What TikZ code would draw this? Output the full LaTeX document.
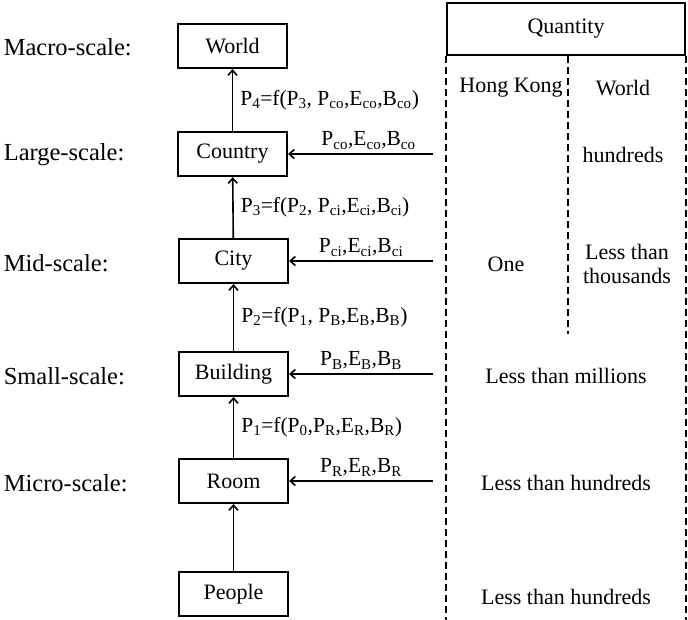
\documentclass[tikz,border=0pt]{standalone}
\usepackage{fontspec}
\setmainfont{Liberation Serif}
\usetikzlibrary{arrows.meta}

\newcommand{\lowidx}[1]{\textsubscript{#1}}

\begin{document}
\begin{tikzpicture}[x=1pt, y=-1pt,
                    box/.style={rectangle, draw, line width=2.2pt, minimum width=109pt, minimum height=44pt, inner sep=2pt, font=\fontsize{22}{24}\selectfont},
                    scale label/.style={anchor=west, inner sep=0pt, font=\fontsize{24.5}{26}\selectfont},
                    flow/.style={font=\fontsize{21.5}{23}\selectfont, inner sep=1pt},
                    qty/.style={font=\fontsize{22}{24}\selectfont, align=center, inner sep=0pt},
                    sep line/.style={line width=1.6pt, dash pattern=on 7pt off 4pt},
                    line width=1.6pt, >={Straight Barb[length=5pt, width=9pt]}]
\useasboundingbox (0,0) rectangle (688,619);

% Nodes
\node (world) [box] at (232.5,46) {World};
\node (country) [box] at (232.5,154) {Country};
\node (city) [box] at (233.5,261) {City};
\node (building) [box] at (233.5,374) {Building};
\node (room) [box] at (233.5,481) {Room};
\node (people) [box] at (233.5,594) {People};

\node (macro) [scale label] at (3,47) {Macro-scale:};
\node (large) [scale label] at (3,155) {Large-scale:};
\node (mid) [scale label] at (3,263) {Mid-scale:};
\node (small) [scale label] at (3,376) {Small-scale:};
\node (micro) [scale label] at (3,483) {Micro-scale:};

\coordinate (in-co) at (433,154);
\coordinate (in-ci) at (433,261);
\coordinate (in-b) at (433,374);
\coordinate (in-r) at (433,481);

% Edges
\draw[->] (people) -- (room);
\draw[->] (room) -- node[flow, right, xshift=6pt] {P\lowidx{1}=f(P\lowidx{0},P\lowidx{R},E\lowidx{R},B\lowidx{R})} (building);
\draw[->] (building) -- node[flow, right, xshift=6pt] {P\lowidx{2}=f(P\lowidx{1}, P\lowidx{B},E\lowidx{B},B\lowidx{B})} (city);
\draw[->] (city) -- node[flow, right, xshift=6pt] {P\lowidx{3}=f(P\lowidx{2}, P\lowidx{ci},E\lowidx{ci},B\lowidx{ci})} (country);
\draw[->] (country) -- node[flow, right, xshift=6pt] {P\lowidx{4}=f(P\lowidx{3}, P\lowidx{co},E\lowidx{co},B\lowidx{co})} (world);

\draw[->] (in-co) -- node[flow, above, xshift=8pt, yshift=3pt] {P\lowidx{co},E\lowidx{co},B\lowidx{co}} (country);
\draw[->] (in-ci) -- node[flow, above, xshift=0pt, yshift=3pt] {P\lowidx{ci},E\lowidx{ci},B\lowidx{ci}} (city);
\draw[->] (in-b) -- node[flow, above, xshift=0pt, yshift=3pt] {P\lowidx{B},E\lowidx{B},B\lowidx{B}} (building);
\draw[->] (in-r) -- node[flow, above, xshift=0pt, yshift=3pt] {P\lowidx{R},E\lowidx{R},B\lowidx{R}} (room);

% Quantity table
\node (quantity) [draw, line width=2pt, minimum width=238pt, minimum height=52pt, font=\fontsize{22}{24}\selectfont] at (566,29) {Quantity};
\draw[sep line] (quantity.south west) -- ++(0,566);
\draw[sep line] (quantity.south east) -- ++(0,566);
\draw[sep line] (quantity.south) ++(2,0) -- ++(0,278);

\node (hk) [qty] at (511,88) {Hong Kong};
\node (wld) [qty] at (623,88) {World};
\node (q-co) [qty] at (623,155) {hundreds};
\node (q-ci-hk) [qty] at (506,264) {One};
\node (q-ci-w) [qty] at (627,264) {Less than\\thousands};
\node (q-b) [qty] at (566,376) {Less than millions};
\node (q-r) [qty] at (566,483) {Less than hundreds};
\node (q-p) [qty] at (566,597) {Less than hundreds};

\end{tikzpicture}
\end{document}
